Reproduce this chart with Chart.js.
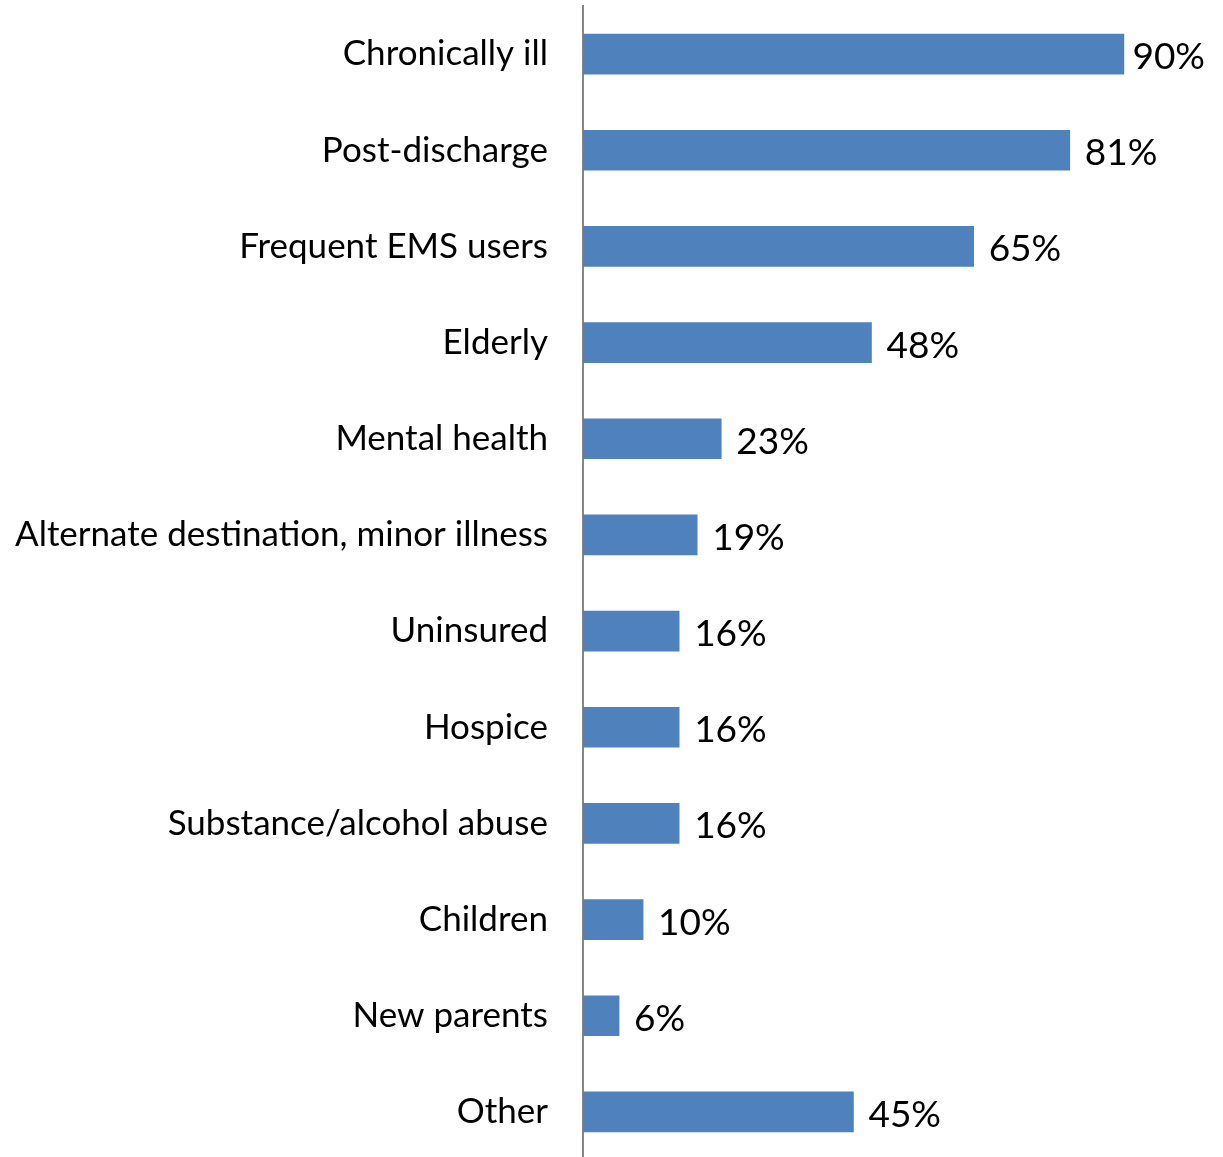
<!DOCTYPE html>
<html>
<head>
<meta charset="utf-8">
<script src="https://cdn.jsdelivr.net/npm/chart.js@4"></script>
<style>
html,body{margin:0;padding:0;background:#fff;overflow:hidden;}
#wrap{width:1223px;height:1157px;overflow:hidden;}
</style>
</head>
<body>
<div id="wrap"><canvas id="c" width="1223" height="1160"></canvas></div>
<script>
const categories = ["Chronically ill","Post-discharge","Frequent EMS users","Elderly","Mental health","Alternate destination, minor illness","Uninsured","Hospice","Substance/alcohol abuse","Children","New parents","Other"];
const values = [90,81,65,48,23,19,16,16,16,10,6,45];

const FONT = "Lato, 'Open Sans', sans-serif";

const labelPlugin = {
  id: 'valueLabels',
  afterDatasetsDraw(chart) {
    const ctx = chart.ctx;
    const meta = chart.getDatasetMeta(0);
    ctx.save();
    ctx.font = "37px " + FONT;
    ctx.fillStyle = "#000";
    ctx.textBaseline = "middle";
    ctx.textAlign = "left";
    const limit = chart.width - 18;
    meta.data.forEach((bar, i) => {
      const txt = values[i] + "%";
      const w = ctx.measureText(txt).width;
      let x = bar.x + 15;
      if (x + w > limit) x = Math.max(bar.x + 5, limit - w);
      ctx.fillText(txt, x, bar.y + 3);
    });
    ctx.restore();
  }
};

new Chart(document.getElementById('c'), {
  type: 'bar',
  data: {
    labels: categories,
    datasets: [{
      data: values,
      backgroundColor: '#4F81BD',
      borderWidth: 0,
      barThickness: 40
    }]
  },
  options: {
    indexAxis: 'y',
    responsive: false,
    animation: false,
    devicePixelRatio: 1,
    layout: { padding: { top: 6, bottom: 0, left: 0, right: 39 } },
    plugins: { legend: { display: false }, tooltip: { enabled: false } },
    scales: {
      x: { display: false, min: 0, max: 100 },
      y: {
        afterFit(scale) { scale.width = 583; scale.paddingTop = 0; scale.paddingBottom = 0; },
        grid: { display: false, drawTicks: false },
        border: { display: true, color: '#868686', width: 2 },
        ticks: {
          color: '#000',
          padding: 35,
          font: { family: FONT, size: 35 }
        }
      }
    }
  },
  plugins: [labelPlugin]
});
</script>
</body>
</html>
